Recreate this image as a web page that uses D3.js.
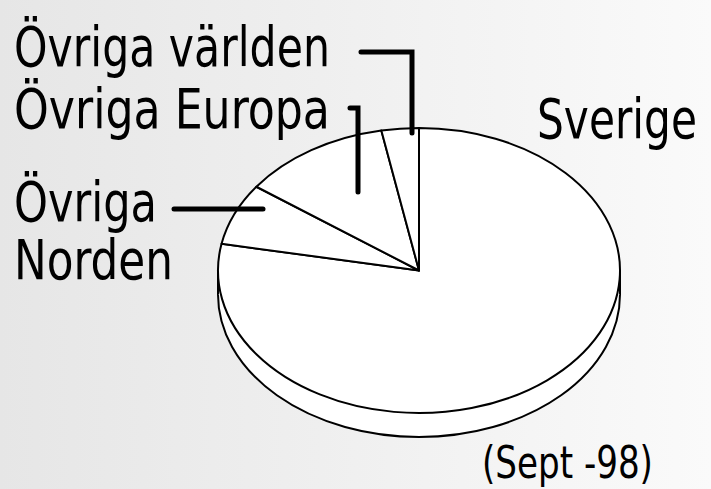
<!DOCTYPE html>
<html>
<head>
<meta charset="utf-8">
<script src="https://cdn.jsdelivr.net/npm/d3@7"></script>
<style>
  body { margin: 0; }
  svg text { font-family: "Liberation Sans Narrow", "DejaVu Sans Condensed", sans-serif; fill: #000; }
</style>
</head>
<body>
<svg id="chart"></svg>
<script>
var width = 711;
var height = 489;

// share of the total, clockwise from 12 o'clock
var categories = ["Sverige", "Övriga Norden", "Övriga Europa", "Övriga världen"];
var shares = [78, 7, 12, 3];
var dateNote = "(Sept -98)";

// pie geometry (ellipse of the tilted top face)
var cx = 419, cy = 270.5;
var rx = 201, ry = 142.5;
var depth = 24;

var svg = d3.select("#chart")
    .attr("width", width)
    .attr("height", height);

//background gradient
var defs = svg.append("defs");
var grad = defs.append("linearGradient")
    .attr("id", "bg")
    .attr("x1", "0%").attr("x2", "100%")
    .attr("y1", "0%").attr("y2", "0%");
grad.append("stop").attr("offset", "0%").attr("stop-color", "#e6e6e6");
grad.append("stop").attr("offset", "100%").attr("stop-color", "#fafafa");

svg.append("rect")
    .attr("width", width)
    .attr("height", height)
    .attr("fill", "url(#bg)");

var data = categories.map(function(c, i) { return {name: c, value: shares[i]}; });

var pie = d3.pie()
    .sort(null)
    .value(function(d) { return d.value; });

var arc = d3.arc()
    .innerRadius(0)
    .outerRadius(rx);

var full = d3.arc()
    .innerRadius(0)
    .outerRadius(rx)
    .startAngle(0)
    .endAngle(2 * Math.PI);

//side of the disc: bottom face, then the band between the faces
svg.append("path")
    .attr("d", full())
    .attr("transform", "translate(" + cx + "," + (cy + depth) + ") scale(1," + (ry / rx) + ")")
    .attr("fill", "#fff")
    .attr("stroke", "#000")
    .attr("stroke-width", 2)
    .attr("vector-effect", "non-scaling-stroke");

svg.append("rect")
    .attr("x", cx - rx)
    .attr("y", cy)
    .attr("width", 2 * rx)
    .attr("height", depth)
    .attr("fill", "#fff");

[cx - rx, cx + rx].forEach(function(x) {
  svg.append("line")
      .attr("x1", x).attr("x2", x)
      .attr("y1", cy).attr("y2", cy + depth)
      .attr("stroke", "#000")
      .attr("stroke-width", 2);
});

//top face slices
var topFace = svg.append("g")
    .attr("transform", "translate(" + cx + "," + cy + ") scale(1," + (ry / rx) + ")");

topFace.selectAll("path.slice")
    .data(pie(data))
    .enter().append("path")
      .attr("class", "slice")
      .attr("d", arc)
      .attr("fill", "#fff")
      .attr("stroke", "#000")
      .attr("stroke-width", 2)
      .attr("stroke-linejoin", "round")
      .attr("vector-effect", "non-scaling-stroke");

//squeeze a text horizontally so it spans w pixels
function narrowText(s, x, y, w, size) {
  var t = svg.append("text")
      .attr("transform", "translate(" + x + "," + y + ")")
      .style("font-size", size + "px")
      .text(s);
  var natural = t.node().getComputedTextLength();
  t.attr("transform", "translate(" + x + "," + y + ") scale(" + (w / natural) + ",1)");
  return t;
}

//labels and leader lines (w = width of each text line)
var labels = [
  {lines: ["Övriga världen"], w: [316], x: 14, y: 66, leader: [[361, 52], [412, 52], [412, 133]]},
  {lines: ["Övriga Europa"], w: [316], x: 14, y: 128, leader: [[350, 108], [358, 108], [358, 192]]},
  {lines: ["Övriga", "Norden"], w: [143, 159], x: 14, y: 221, leader: [[174, 209], [263, 209]]},
  {lines: ["Sverige"], w: [160], x: 537, y: 138, leader: null}
];

var line = d3.line();

labels.forEach(function(l) {
  l.lines.forEach(function(s, i) {
    narrowText(s, l.x, l.y + i * 58, l.w[i], 55);
  });
  if (l.leader) {
    svg.append("path")
        .attr("d", line(l.leader))
        .attr("fill", "none")
        .attr("stroke", "#000")
        .attr("stroke-width", 5)
        .attr("stroke-linecap", "round");
  }
});

narrowText(dateNote, 482, 478, 171, 45);
</script>
</body>
</html>
